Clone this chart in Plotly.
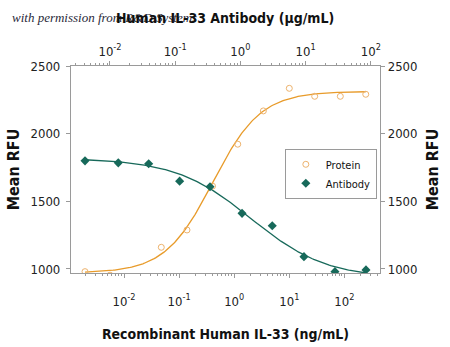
import numpy as np
import plotly.graph_objects as go

# Recombinant Human IL-33 dose (ng/mL) and response
protein_conc = [0.00196, 0.00557, 0.0475, 0.139, 0.404, 1.16, 3.38, 10.0, 28.9, 84.3, 244]
protein_rfu = [980, 954, 1160, 1288, 1612, 1922, 2168, 2335, 2276, 2276, 2291]

# Human IL-33 Antibody dose (ug/mL) and response
antibody_conc = [0.00414, 0.0134, 0.0392, 0.117, 0.342, 1.06, 3.08, 9.44, 28.2, 84.3]
antibody_rfu = [1799, 1784, 1777, 1649, 1607, 1411, 1319, 1091, 980, 993]

# Four-parameter logistic fits: response at low dose, response at high dose, EC50, Hill slope
protein_fit = (970, 2312, 0.41, 1.0)
antibody_fit = (1818, 930, 1.44, 0.75)

y_ticks = [1000, 1500, 2000, 2500]
x_tick_vals = [0.01, 0.1, 1, 10, 100]
x_tick_text = ["10<sup>-2</sup>", "10<sup>-1</sup>", "10<sup>0</sup>", "10<sup>1</sup>", "10<sup>2</sup>"]

ORANGE = "#E89B2A"
ORANGE_LIGHT = "#EDB36E"
TEAL = "#17695A"
AXIS_GREY = "#9A9A9A"
FONT = "DejaVu Sans Condensed, Liberation Sans Narrow, Roboto, sans-serif"


def four_pl(x, low, high, ec50, hill):
    return high + (low - high) / (1.0 + (x / ec50) ** hill)


def fit_curve(conc, params):
    xs = np.logspace(np.log10(min(conc)), np.log10(max(conc)), 200)
    return xs, four_pl(xs, *params)


px_x, px_y = fit_curve(protein_conc, protein_fit)
ab_x, ab_y = fit_curve(antibody_conc, antibody_fit)

# minor ticks at 2..9 within each decade
minor_vals = [m * 10.0 ** d for d in range(-4, 4) for m in range(2, 10)]

fig = go.Figure()

# fitted curves
fig.add_trace(go.Scatter(x=px_x, y=px_y, mode="lines", line=dict(color=ORANGE, width=1.3),
                         showlegend=False, hoverinfo="skip", xaxis="x", yaxis="y"))
fig.add_trace(go.Scatter(x=ab_x, y=ab_y, mode="lines", line=dict(color=TEAL, width=1.3),
                         showlegend=False, hoverinfo="skip", xaxis="x2", yaxis="y"))

# measured points
fig.add_trace(go.Scatter(x=protein_conc, y=protein_rfu, mode="markers", name="Protein",
                         marker=dict(symbol="circle-open", size=6, color=ORANGE_LIGHT,
                                     line=dict(width=1)),
                         xaxis="x", yaxis="y"))
fig.add_trace(go.Scatter(x=antibody_conc, y=antibody_rfu, mode="markers", name="Antibody",
                         marker=dict(symbol="diamond", size=7, color=TEAL),
                         xaxis="x2", yaxis="y"))

# invisible trace so the right-hand axis is drawn
fig.add_trace(go.Scatter(x=[protein_conc[0]], y=[protein_rfu[0]], mode="markers",
                         marker=dict(opacity=0), showlegend=False, hoverinfo="skip",
                         xaxis="x", yaxis="y2"))

axis_common = dict(
    showgrid=False, zeroline=False, showline=True, linecolor=AXIS_GREY, linewidth=1.2,
    ticks="outside", ticklen=4, tickcolor=AXIS_GREY, automargin=False,
    tickfont=dict(family=FONT, size=13, color="#222"),
)

log_common = dict(
    axis_common, type="log", tickmode="array", tickvals=x_tick_vals, ticktext=x_tick_text,
    minor=dict(tickmode="array", tickvals=minor_vals, ticks="outside", ticklen=2,
               tickcolor=AXIS_GREY, showgrid=False),
)

TITLE_FONT = dict(family=FONT, size=14, color="#111")
Y_TITLE_FONT = dict(family=FONT, size=16, color="#111")

fig.update_layout(
    width=450, height=347,
    margin=dict(l=71, r=70, t=66, b=74),
    paper_bgcolor="white", plot_bgcolor="white",
    font=dict(family=FONT, color="#111"),
    xaxis=dict(log_common, range=[-2.962, 2.646], side="bottom", ticklabelstandoff=12,
               title=dict(text="<b>Recombinant Human IL-33 (ng/mL)</b>",
                          font=TITLE_FONT, standoff=21)),
    xaxis2=dict(log_common, range=[-2.598, 2.141], side="top", overlaying="x",
                anchor="y"),
    yaxis=dict(axis_common, range=[970, 2500], tickvals=y_ticks, ticklabelstandoff=3,
               title=dict(text="<b>Mean RFU</b>", font=Y_TITLE_FONT, standoff=6)),
    yaxis2=dict(axis_common, range=[970, 2500], tickvals=y_ticks, side="right",
                overlaying="y", anchor="x",
                title=dict(text="<b>Mean RFU</b>", font=Y_TITLE_FONT, standoff=10)),
    legend=dict(x=0.692, y=0.6, xanchor="left", yanchor="top",
                bgcolor="white", bordercolor=AXIS_GREY, borderwidth=1,
                font=dict(family=FONT, size=11, color="#111"),
                itemwidth=30, tracegroupgap=0),
)

# texts above the plot, placed in pixels and converted to paper coordinates
plot_w = 450 - 71 - 70
plot_h = 347 - 66 - 74
plot_bottom = 347 - 74


def paper_x(px):
    return (px - 71) / plot_w


def paper_y(py):
    return (plot_bottom - py) / plot_h


fig.add_annotation(text="<i>with permission from R&amp;D Systems</i>",
                   x=paper_x(10), y=paper_y(17), xref="paper", yref="paper",
                   xanchor="left", yanchor="middle", showarrow=False,
                   font=dict(family="Liberation Serif", size=13, color="#2a2a3a"))
fig.add_annotation(text="<b>Human IL-33 Antibody (μg/mL)</b>",
                   x=paper_x(225), y=paper_y(18), xref="paper", yref="paper",
                   xanchor="center", yanchor="middle", showarrow=False,
                   font=TITLE_FONT)

fig.write_html("out.html")
